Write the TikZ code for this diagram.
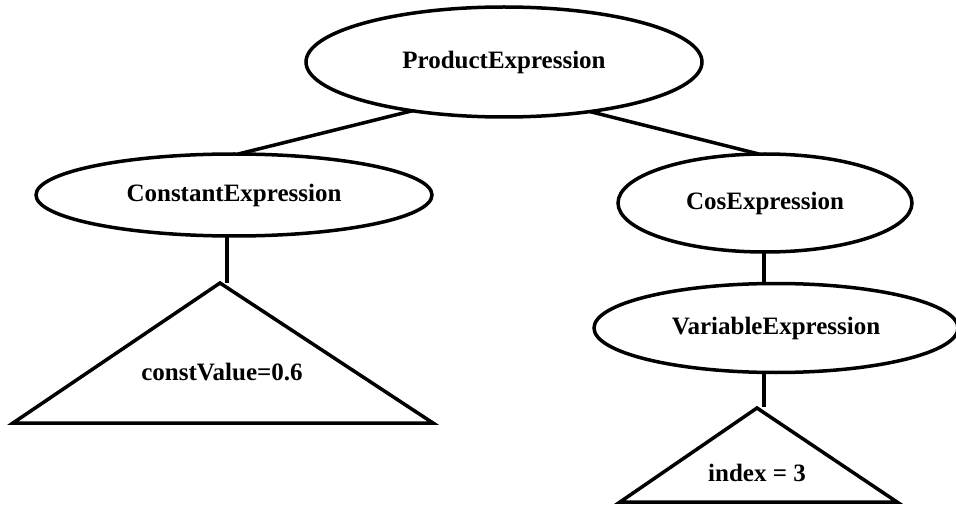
\documentclass[tikz,border=0pt]{standalone}
\usepackage{fontspec}
\setmainfont{Liberation Serif}
\usetikzlibrary{shapes.geometric}
\begin{document}
\begin{tikzpicture}[x=1pt,y=-1pt,
  every node/.style={font=\fontsize{25}{30}\selectfont\bfseries},
  oval/.style={draw,ellipse,line width=3.5pt,inner sep=0pt,outer sep=0pt},
  conn/.style={line width=3.5pt},
  tri/.style={line width=3.5pt,line join=miter}]
\useasboundingbox (0,0) rectangle (956,505);
\node[oval,minimum width=396pt,minimum height=110pt] (P) at (504,62) {ProductExpression};
\node[oval,minimum width=396pt,minimum height=82pt] (C) at (234,195) {ConstantExpression};
\node[oval,minimum width=294pt,minimum height=98pt] (Cos) at (765,203) {CosExpression};
\node[oval,minimum width=364pt,minimum height=89pt] (V) at (776,328) {VariableExpression};
% triangles
\coordinate (a1) at (220,283);
\coordinate (b1l) at (13,423);
\coordinate (b1r) at (433,423);
\draw[tri] (a1) -- (b1r) -- (b1l) -- cycle;
\node (t1) at (222,372) {constValue=0.6};
\coordinate (a2) at (757,408);
\coordinate (b2l) at (620,502);
\coordinate (b2r) at (897,502);
\draw[tri] (a2) -- (b2r) -- (b2l) -- cycle;
\node (t2) at (757,473) {index = 3};
% connectors
\coordinate (j1) at (227,283);
\coordinate (j2) at (764,407);
\draw[conn] (P.208.5) -- (C.84);
\draw[conn] (P.330) -- (Cos.97);
\draw[conn] (C.south -| j1) -- (j1);
\draw[conn] (Cos.south -| j2) -- (V.north -| j2);
\draw[conn] (V.south -| j2) -- (j2);
\end{tikzpicture}
\end{document}
